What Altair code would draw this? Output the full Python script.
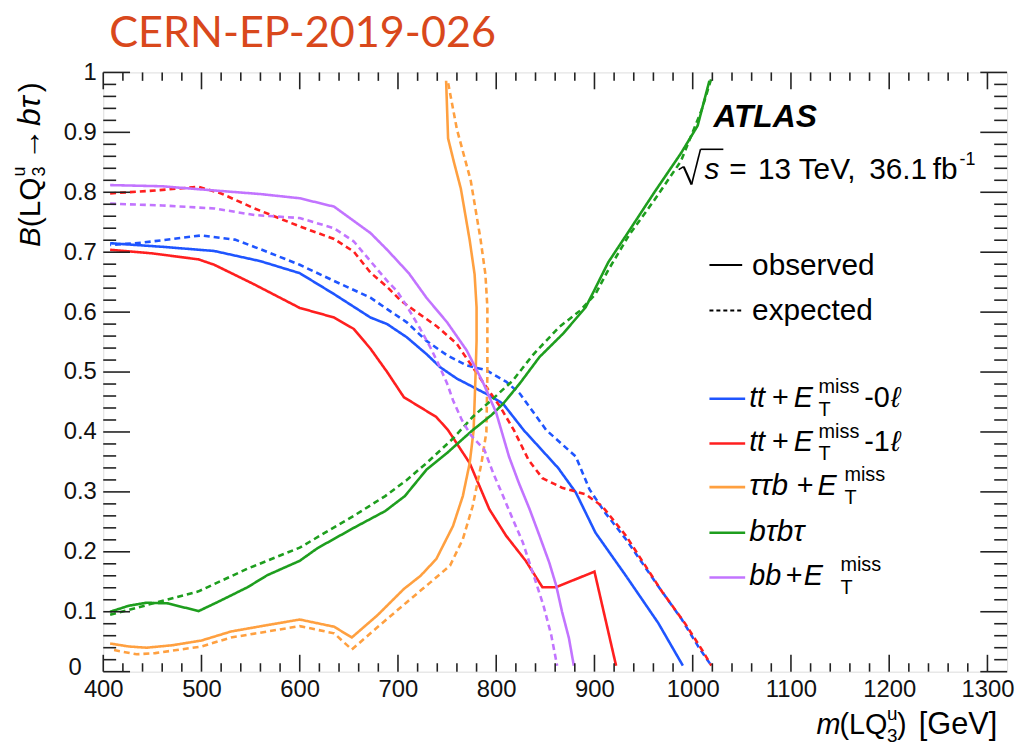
import altair as alt
import pandas as pd

# ---------------- data ----------------
TT0_OBS_M = [407, 460, 513, 560, 600, 635, 672, 689, 709, 729, 743, 760, 780, 793, 807, 828, 863, 881, 901, 932, 965, 990]
TT0_OBS_B = [0.715, 0.709, 0.702, 0.685, 0.665, 0.630, 0.591, 0.580, 0.558, 0.530, 0.508, 0.489, 0.472, 0.461, 0.447, 0.403, 0.340, 0.299, 0.232, 0.160, 0.081, 0.01]
TT0_EXP_M = [407, 440, 470, 500, 534, 560, 600, 635, 672, 689, 709, 729, 750, 770, 790, 810, 824, 851, 881, 895, 911, 932, 966, 989, 1006, 1019]
TT0_EXP_B = [0.712, 0.716, 0.722, 0.728, 0.721, 0.705, 0.679, 0.652, 0.624, 0.605, 0.583, 0.552, 0.528, 0.511, 0.503, 0.484, 0.464, 0.403, 0.359, 0.304, 0.265, 0.221, 0.140, 0.087, 0.041, 0.01]

TT1_OBS_M = [407, 450, 497, 513, 554, 600, 635, 655, 672, 689, 706, 739, 751, 773, 793, 810, 830, 847, 861, 900, 922]
TT1_OBS_B = [0.704, 0.698, 0.688, 0.679, 0.646, 0.607, 0.591, 0.572, 0.539, 0.500, 0.458, 0.425, 0.403, 0.348, 0.271, 0.227, 0.185, 0.141, 0.141, 0.167, 0.01]
TT1_EXP_M = [407, 453, 497, 520, 554, 600, 635, 655, 672, 689, 703, 719, 739, 760, 776, 790, 804, 818, 833, 847, 867, 891, 908, 932, 969, 992, 1010, 1019]
TT1_EXP_B = [0.798, 0.803, 0.809, 0.798, 0.773, 0.743, 0.722, 0.701, 0.666, 0.642, 0.619, 0.600, 0.577, 0.547, 0.508, 0.475, 0.442, 0.403, 0.353, 0.323, 0.307, 0.296, 0.276, 0.227, 0.133, 0.081, 0.035, 0.01]

TTB_OBS_M = [407, 426, 444, 470, 500, 530, 561, 600, 635, 653, 679, 706, 723, 739, 756, 766, 773, 777, 779, 780, 780, 778, 773, 764, 757, 751, 749]
TTB_OBS_B = [0.047, 0.042, 0.040, 0.044, 0.052, 0.067, 0.076, 0.087, 0.075, 0.057, 0.094, 0.138, 0.160, 0.188, 0.243, 0.293, 0.348, 0.403, 0.497, 0.552, 0.608, 0.663, 0.720, 0.806, 0.850, 0.890, 0.986]
TTB_EXP_M = [411, 434, 453, 500, 530, 600, 635, 653, 679, 709, 733, 753, 766, 776, 785, 790, 791, 791, 789, 784, 774, 760, 751]
TTB_EXP_B = [0.036, 0.029, 0.031, 0.042, 0.057, 0.076, 0.064, 0.037, 0.074, 0.116, 0.149, 0.177, 0.221, 0.276, 0.348, 0.400, 0.497, 0.608, 0.663, 0.722, 0.820, 0.905, 0.983]

BTBT_OBS_M = [407, 426, 444, 466, 497, 520, 547, 567, 600, 618, 655, 687, 707, 729, 750, 776, 795, 807, 824, 844, 868, 891, 900, 914, 935, 961, 988, 1005, 1017]
BTBT_OBS_B = [0.100, 0.110, 0.115, 0.114, 0.101, 0.119, 0.141, 0.161, 0.185, 0.206, 0.240, 0.268, 0.293, 0.337, 0.365, 0.403, 0.428, 0.447, 0.481, 0.525, 0.564, 0.608, 0.637, 0.683, 0.735, 0.800, 0.865, 0.911, 0.986]
BTBT_EXP_M = [407, 444, 497, 547, 600, 655, 687, 709, 729, 756, 776, 797, 817, 837, 864, 885, 901, 914, 935, 961, 988, 1009, 1019]
BTBT_EXP_B = [0.095, 0.111, 0.134, 0.172, 0.207, 0.260, 0.293, 0.320, 0.348, 0.389, 0.425, 0.456, 0.486, 0.528, 0.575, 0.602, 0.630, 0.670, 0.728, 0.787, 0.852, 0.937, 0.990]

BB_OBS_M = [407, 460, 513, 560, 600, 635, 672, 689, 711, 729, 750, 770, 787, 800, 813, 823, 834, 844, 854, 861, 867, 874, 879]
BB_OBS_B = [0.812, 0.810, 0.803, 0.797, 0.790, 0.776, 0.732, 0.704, 0.665, 0.624, 0.583, 0.536, 0.481, 0.432, 0.359, 0.315, 0.271, 0.227, 0.182, 0.144, 0.100, 0.056, 0.01]
BB_EXP_M = [407, 460, 513, 554, 600, 635, 655, 672, 689, 699, 709, 722, 733, 741, 750, 756, 765, 774, 788, 797, 807, 817, 827, 837, 848, 856, 862]
BB_EXP_B = [0.781, 0.778, 0.773, 0.762, 0.757, 0.740, 0.718, 0.685, 0.652, 0.635, 0.610, 0.574, 0.541, 0.514, 0.481, 0.453, 0.420, 0.395, 0.370, 0.331, 0.293, 0.254, 0.216, 0.166, 0.111, 0.061, 0.01]

SERIES = ["tt0", "tt1", "ttb", "btbt", "bb"]
COLORS = ["#1f55ff", "#ff1f1f", "#ffa040", "#1e9e1e", "#c274ff"]

X_LABELS = [400, 500, 600, 700, 800, 900, 1000, 1100, 1200, 1300]
Y_LABELS = [0.1, 0.2, 0.3, 0.4, 0.5, 0.6, 0.7, 0.8, 0.9, 1.0]
Y_MAJOR = [0, 0.1, 0.2, 0.3, 0.4, 0.5, 0.6, 0.7, 0.8, 0.9, 1.0]
X_MINOR = [v for v in range(420, 1320, 20) if v % 100 != 0]
Y_MINOR = [round(k * 0.02, 2) for k in range(1, 50) if k % 5 != 0]

# ---------------- build table ----------------
curves = [
    ("tt0", "obs", TT0_OBS_M, TT0_OBS_B), ("tt0", "exp", TT0_EXP_M, TT0_EXP_B),
    ("tt1", "obs", TT1_OBS_M, TT1_OBS_B), ("tt1", "exp", TT1_EXP_M, TT1_EXP_B),
    ("ttb", "obs", TTB_OBS_M, TTB_OBS_B), ("ttb", "exp", TTB_EXP_M, TTB_EXP_B),
    ("btbt", "obs", BTBT_OBS_M, BTBT_OBS_B), ("btbt", "exp", BTBT_EXP_M, BTBT_EXP_B),
    ("bb", "obs", BB_OBS_M, BB_OBS_B), ("bb", "exp", BB_EXP_M, BB_EXP_B),
]
rows = []
for name, kind, ms, bs in curves:
    for i, (m, b) in enumerate(zip(ms, bs)):
        rows.append({"series": name, "kind": kind, "key": name + "_" + kind, "i": i, "m": m, "B": b})
df = pd.DataFrame(rows)
df_main = df[df["key"] != "tt0_exp"]
df_blue_exp = df[df["key"] == "tt0_exp"]

W, H = 911, 604
OX, OY = 104, 70  # page position of plot origin
FONT = "Liberation Sans"

xs = alt.Scale(domain=[400, 1320], nice=False, zero=False)
ys = alt.Scale(domain=[0, 1], nice=False, zero=False)
AX_X = alt.Axis(values=X_LABELS, format="d", ticks=False, domain=False, grid=False, title=None,
                labelFontSize=24, labelFont=FONT, labelColor="#111", labelPadding=6,
                labelFlush=False, labelOverlap=False)
AX_Y = alt.Axis(values=Y_LABELS, format="~g", ticks=False, domain=False, grid=False, title=None,
                labelFontSize=24, labelFont=FONT, labelColor="#111", labelPadding=7,
                labelFlush=False, labelOverlap=False)

ENC = dict(
    x=alt.X("m:Q", scale=xs, axis=AX_X),
    y=alt.Y("B:Q", scale=ys, axis=AX_Y),
    color=alt.Color("series:N", scale=alt.Scale(domain=SERIES, range=COLORS), legend=None),
    strokeDash=alt.StrokeDash("kind:N", scale=alt.Scale(domain=["obs", "exp"], range=[[1, 0], [6, 4]]), legend=None),
    detail="key:N",
    order="i:Q",
)
lines_blue_exp = alt.Chart(df_blue_exp).mark_line(strokeWidth=2.6, clip=True, strokeDashOffset=5).encode(**ENC)
lines = alt.Chart(df_main).mark_line(strokeWidth=2.6, clip=True).encode(**ENC)

TICK = dict(color="#222", strokeWidth=1.6)


def xticks(vals, length):
    d = pd.DataFrame({"m": vals})
    bottom = alt.Chart(d).mark_rule(**TICK).encode(
        x=alt.X("m:Q", scale=xs, axis=AX_X), y=alt.value(H), y2=alt.value(H - length))
    top = alt.Chart(d).mark_rule(**TICK).encode(
        x=alt.X("m:Q", scale=xs, axis=AX_X), y=alt.value(0), y2=alt.value(length))
    return [bottom, top]


def yticks(vals, length):
    d = pd.DataFrame({"B": vals})
    left = alt.Chart(d).mark_rule(**TICK).encode(
        y=alt.Y("B:Q", scale=ys, axis=AX_Y), x=alt.value(0), x2=alt.value(length))
    right = alt.Chart(d).mark_rule(**TICK).encode(
        y=alt.Y("B:Q", scale=ys, axis=AX_Y), x=alt.value(W), x2=alt.value(W - length))
    return [left, right]


ONE = pd.DataFrame({"k": [0]})


def txt(text, px, py, size=29, style="normal", weight="normal", angle=0, color="#000", font=FONT):
    return alt.Chart(ONE).mark_text(
        text=text, fontSize=size, fontStyle=style, fontWeight=weight, angle=angle,
        color=color, font=font, align="left", baseline="alphabetic",
    ).encode(x=alt.value(px - OX), y=alt.value(py - OY))


def seg(x1, y1, x2, y2, color="#000", width=2.5, dash=None):
    kw = dict(color=color, strokeWidth=width)
    if dash:
        kw["strokeDash"] = dash
    return alt.Chart(ONE).mark_rule(**kw).encode(
        x=alt.value(x1 - OX), x2=alt.value(x2 - OX), y=alt.value(y1 - OY), y2=alt.value(y2 - OY))


def hline(x1, x2, py, color="#000", width=2.5, dash=None):
    return seg(x1, py, x2, py, color=color, width=width, dash=dash)


def supsub(px, base, sub="T", sup="miss"):
    return [txt(sub, px, base + 9, size=20), txt(sup, px, base - 14, size=20)]


layers = [lines_blue_exp, lines]
layers += xticks(X_LABELS, 17) + xticks(X_MINOR, 8.5)
layers += yticks(Y_MAJOR, 27) + yticks(Y_MINOR, 13)

# the "0" label of the y axis sits lower-left, as in ROOT
layers.append(txt("0", 69, 677, size=24, color="#111"))

# title
layers.append(txt("CERN-EP-2019-026", 110, 44, size=43.5, color="#d9481c", font="Lato"))

# ATLAS label
layers.append(txt("ATLAS", 719, 125, size=32, style="italic", weight="bold"))
# square-root sign
layers.append(seg(684, 168, 689, 165, width=1.6))
layers.append(seg(689, 165, 697, 183, width=2.2))
layers.append(seg(697, 183, 706, 147.5, width=1.6))
layers.append(seg(706, 147.5, 729, 147.5, width=1.6))
layers.append(txt("s", 710, 177, size=30, style="italic"))
layers.append(txt("=", 735, 177, size=30))
layers.append(txt("13", 764, 177, size=30))
layers.append(txt("TeV,", 805, 177, size=30))
layers.append(txt("36.1", 876, 177, size=30))
layers.append(txt("fb", 940, 177, size=30))
layers.append(txt("-1", 967, 163, size=18))

# observed / expected
layers.append(hline(715, 748, 264, width=2))
layers.append(txt("observed", 758, 274, size=30))
layers.append(hline(715, 748, 310, width=2, dash=[4, 3]))
layers.append(txt("expected", 758, 320, size=30))

# coloured legend
LEG_Y = [407, 452, 496, 542, 587]
for col, base in zip(COLORS, LEG_Y):
    layers.append(hline(715, 751, base - 8, color=col, width=2.6))

b = LEG_Y[0]
layers += [txt("tt", 755, b, style="italic"), txt("+", 778, b), txt("E", 800, b, style="italic")]
layers += supsub(825, b)
layers += [txt("-0", 871, b), txt("\u2113", 898, b, style="italic")]
b = LEG_Y[1]
layers += [txt("tt", 755, b, style="italic"), txt("+", 778, b), txt("E", 800, b, style="italic")]
layers += supsub(825, b)
layers += [txt("-1", 871, b), txt("\u2113", 898, b, style="italic")]
b = LEG_Y[2]
layers += [txt("\u03c4\u03c4b", 755, b, size=30, style="italic"), txt("+", 803, b), txt("E", 824, b, style="italic")]
layers += supsub(851, b)
b = LEG_Y[3]
layers += [txt("b\u03c4b\u03c4", 755, b, size=30, style="italic")]
b = LEG_Y[4]
layers += [txt("bb", 755, b, style="italic"), txt("+", 792, b), txt("E", 810, b, style="italic")]
layers += supsub(847, b)

# x-axis title
layers += [txt("m", 823, 737, style="italic"), txt("(LQ", 846, 737),
           txt("3", 894, 745, size=19), txt("u", 894, 723, size=19),
           txt(")", 904, 737), txt("[GeV]", 926, 737, size=31)]

# y-axis title (rotated, reading upwards)
layers += [txt("B", 40, 246, size=30, style="italic", angle=270),
           txt("(LQ", 40, 226, size=30, angle=270),
           txt("3", 45.5, 175, size=18, angle=270),
           txt("u", 25.5, 175, size=18, angle=270),
           txt("\u2192", 40, 158, size=32, angle=270),
           txt("b\u03c4", 40, 124, size=32, style="italic", angle=270),
           txt(")", 40, 90, size=30, angle=270)]

chart = alt.layer(*layers).properties(
    width=W, height=H,
    autosize=alt.AutoSizeParams(type="none"),
    padding={"left": 96, "top": 62, "right": 11, "bottom": 73},
).configure_view(stroke="#000", strokeWidth=2).configure(background="white")

chart.save("out.html", embed_options={"renderer": "svg", "actions": False})
